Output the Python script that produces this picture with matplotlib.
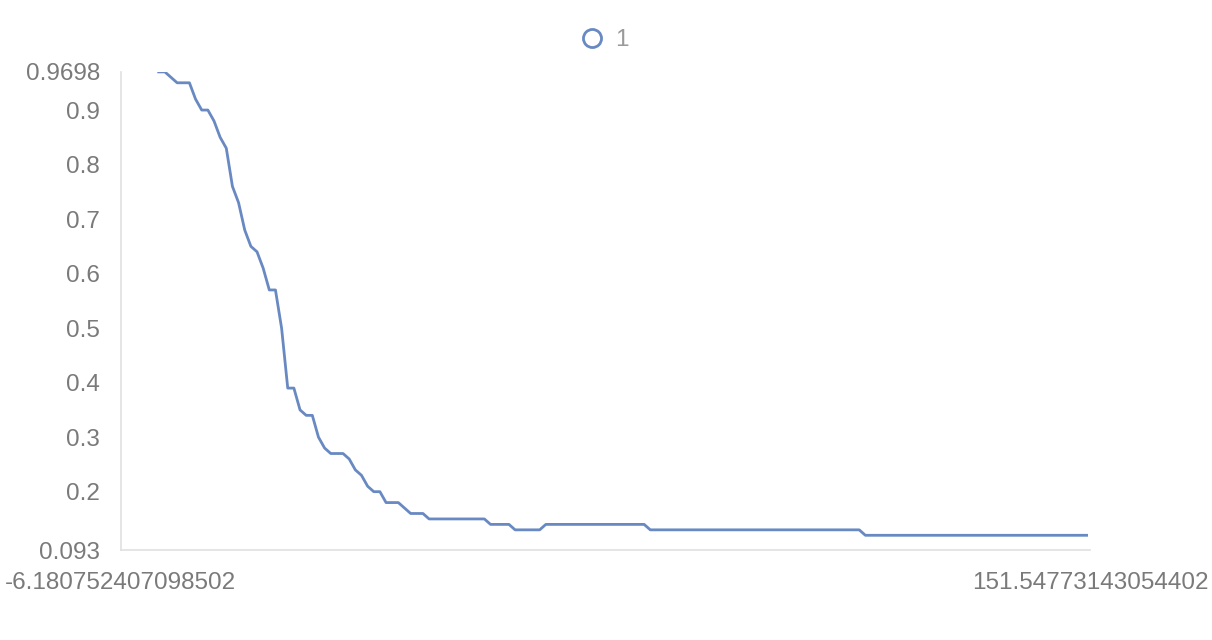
import matplotlib.pyplot as plt
from matplotlib.lines import Line2D

plt.rcParams["font.family"] = ["Liberation Sans", "DejaVu Sans"]

# Corner points of the series (x index, value)
x_vals = [0, 1, 3, 5, 6, 7, 8, 9, 10, 11, 12, 13, 14, 15, 16, 17, 18, 19,
          20, 21, 22, 23, 24, 25, 26, 27, 28, 30, 31, 32, 33, 34, 35, 36,
          37, 39, 40, 41, 43, 44, 53, 54, 57, 58, 62, 63, 79, 80, 114, 115, 151]
y_vals = [0.97, 0.97, 0.95, 0.95, 0.92, 0.90, 0.90, 0.88, 0.85, 0.83, 0.76,
          0.73, 0.68, 0.65, 0.64, 0.61, 0.57, 0.57, 0.50, 0.39, 0.39, 0.35,
          0.34, 0.34, 0.30, 0.28, 0.27, 0.27, 0.26, 0.24, 0.23, 0.21, 0.20,
          0.20, 0.18, 0.18, 0.17, 0.16, 0.16, 0.15, 0.15, 0.14, 0.14, 0.13,
          0.13, 0.14, 0.14, 0.13, 0.13, 0.12, 0.12]
series_name = "1"

x_min, x_max = -6.180752407098502, 151.54773143054402
y_min, y_max = 0.093, 0.9698
y_ticks = [0.093, 0.2, 0.3, 0.4, 0.5, 0.6, 0.7, 0.8, 0.9, 0.9698]
y_labels = ["0.093", "0.2", "0.3", "0.4", "0.5", "0.6", "0.7", "0.8", "0.9", "0.9698"]
x_ticks = [x_min, x_max]
x_labels = ["-6.180752407098502", "151.54773143054402"]

line_color = "#6889c2"
text_color = "#7a7a7a"
legend_text_color = "#9a9a9a"
axis_color = "#e0e0e0"

fig = plt.figure(figsize=(12.12, 6.4), dpi=100)
ax = fig.add_axes([0.0996, 0.1406, 0.7997, 0.7469])

ax.plot(x_vals, y_vals, color=line_color, linewidth=2.0, solid_joinstyle="round")

ax.set_xlim(x_min, x_max)
ax.set_ylim(y_min, y_max)
ax.set_yticks(y_ticks)
ax.set_yticklabels(y_labels)
ax.set_xticks(x_ticks)
ax.set_xticklabels(x_labels)

ax.tick_params(axis="y", length=0, pad=15, labelsize=17.5, labelcolor=text_color)
ax.tick_params(axis="x", length=0, pad=16, labelsize=17.5, labelcolor=text_color)

for side in ["top", "right"]:
    ax.spines[side].set_visible(False)
for side in ["left", "bottom"]:
    ax.spines[side].set_color(axis_color)
    ax.spines[side].set_linewidth(1.2)

handle = Line2D([], [], linestyle="none", marker="o", markersize=13,
                markerfacecolor="white", markeredgecolor=line_color,
                markeredgewidth=2.0)
fig.legend([handle], [series_name], loc="center", bbox_to_anchor=(0.4975, 0.937),
           frameon=False, fontsize=17.5, labelcolor=legend_text_color,
           handletextpad=0.35, borderpad=0, handlelength=1.2)

fig.savefig("out.png", dpi=100)
